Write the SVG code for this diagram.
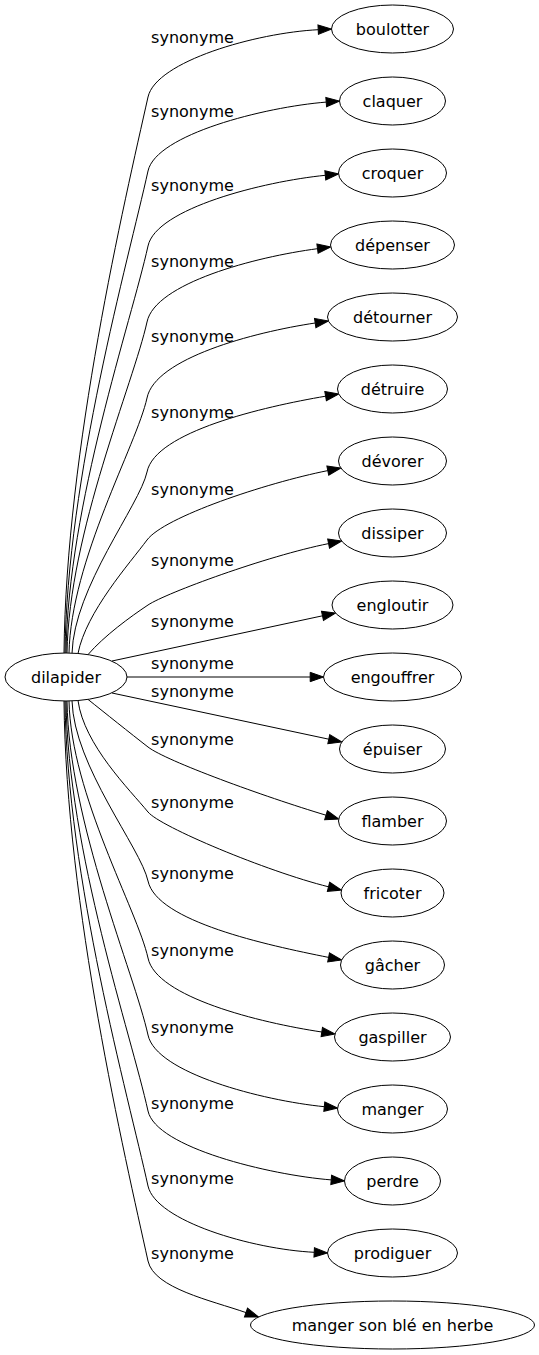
<svg xmlns="http://www.w3.org/2000/svg" width="539" height="1355" viewBox="0 0 539 1355">
<defs>
<style>
.node ellipse{fill:#fff;stroke:#000;stroke-width:1}
text{font-family:"DejaVu Sans",Verdana,sans-serif;font-size:16px;fill:#000;text-anchor:middle}
#edges path{fill:none;stroke:#000;stroke-width:1;marker-end:url(#ah)}
</style>
<marker id="ah" markerUnits="userSpaceOnUse" markerWidth="15" markerHeight="11" refX="0" refY="5" orient="auto" overflow="visible"><path d="M0,0.33 L13.33,5 L0,9.67 Z" fill="#000" stroke="#000" stroke-width="1"/></marker>
</defs>
<rect width="539" height="1355" fill="#fff"/>
<g id="edges">
<g id="e0"><path d="M64,653 C66,450 125,200 148,97 C156,61.3 256.2,32.8 318.2,29.7"/><text x="192.5" y="42.5">synonyme</text></g>
<g id="e1"><path d="M65,653 C67,476.6 128.4,260.2 148,171 C156,134.5 264.2,107.1 326.2,102.1"/><text x="192.5" y="117">synonyme</text></g>
<g id="e2"><path d="M66,653 C68,504.4 131.4,321.3 148,246 C156,208.5 263.3,181.5 325.3,175.3"/><text x="192.5" y="191">synonyme</text></g>
<g id="e3"><path d="M67,653 C69,532.2 133.5,383.2 147,322 C155,283.2 255.5,256.8 317.5,248.7"/><text x="192.5" y="267">synonyme</text></g>
<g id="e4"><path d="M69,653.1 C71,559.9 136.6,445.2 147,398 C155,358.3 253.2,332.3 315.2,323"/><text x="192.5" y="342">synonyme</text></g>
<g id="e5"><path d="M72,653.3 C74,587.1 139.6,505.5 147,472 C155,431.8 263.6,406.7 325.6,396.2"/><text x="192.5" y="418">synonyme</text></g>
<g id="e6"><path d="M78,653.5 C86,612 130,563 147,540 C164,517 265.8,483 327.8,470.6"/><text x="192.5" y="495">synonyme</text></g>
<g id="e7"><path d="M88,654.6 C104,636 130,617 148,605 C166,593 266.6,556 328.6,543.6"/><text x="192.5" y="566">synonyme</text></g>
<g id="e8"><path d="M112,661 L322.5,615.8"/><text x="192.5" y="627">synonyme</text></g>
<g id="e9"><path d="M127,677 L310.2,677"/><text x="192.5" y="669">synonyme</text></g>
<g id="e10"><path d="M112,693 L328.8,739.2"/><text x="192.5" y="697">synonyme</text></g>
<g id="e11"><path d="M88,699.4 C105,713 130,733 148,747 C166,761 264,796.6 326,815.2"/><text x="192.5" y="745">synonyme</text></g>
<g id="e12"><path d="M78,700.5 C84,745 130,790 148,812 C160,826.7 266.5,871.3 328.5,886.8"/><text x="192.5" y="808">synonyme</text></g>
<g id="e13"><path d="M72,700.7 C74,766.5 140.7,847.6 148,881 C156.9,921.5 266.6,945 328.6,957.4"/><text x="192.5" y="879">synonyme</text></g>
<g id="e14"><path d="M69,701 C71,794.8 137.5,910.5 148,958 C156,997.2 259.8,1022.7 321.8,1032"/><text x="192.5" y="956">synonyme</text></g>
<g id="e15"><path d="M67,701 C69,822.9 134.4,973.2 148,1035 C156,1073 262.3,1100.5 324.3,1106.7"/><text x="192.5" y="1033">synonyme</text></g>
<g id="e16"><path d="M66,701 C68,850.7 131.3,1035.1 148,1111 C156,1147.5 269.2,1174.9 331.2,1179.9"/><text x="192.5" y="1109">synonyme</text></g>
<g id="e17"><path d="M65,701 C67,878 128.3,1096.3 148,1186 C156,1221.1 252.2,1249.2 314.2,1252.3"/><text x="192.5" y="1184">synonyme</text></g>
<g id="e18"><path d="M64,701 C66,905.4 125.2,1157.4 148,1261 C154,1288.3 211,1300.4 246,1312.6"/><text x="192.5" y="1259">synonyme</text></g>
</g>
<g id="nodes">
<g id="n-dilapider" class="node"><ellipse cx="66" cy="677" rx="61" ry="24"/><text x="66" y="682.5">dilapider</text></g>
<g id="n0" class="node"><ellipse cx="392.5" cy="29" rx="61" ry="24"/><text x="392.5" y="34.5">boulotter</text></g>
<g id="n1" class="node"><ellipse cx="392.5" cy="101" rx="53" ry="24"/><text x="392.5" y="106.5">claquer</text></g>
<g id="n2" class="node"><ellipse cx="392.5" cy="173" rx="54" ry="24"/><text x="392.5" y="178.5">croquer</text></g>
<g id="n3" class="node"><ellipse cx="392.5" cy="245" rx="62" ry="24"/><text x="392.5" y="250.5">dépenser</text></g>
<g id="n4" class="node"><ellipse cx="392.5" cy="317" rx="65" ry="24"/><text x="392.5" y="322.5">détourner</text></g>
<g id="n5" class="node"><ellipse cx="392.5" cy="389" rx="55" ry="24"/><text x="392.5" y="394.5">détruire</text></g>
<g id="n6" class="node"><ellipse cx="392.5" cy="461" rx="54" ry="24"/><text x="392.5" y="466.5">dévorer</text></g>
<g id="n7" class="node"><ellipse cx="392.5" cy="533" rx="54" ry="24"/><text x="392.5" y="538.5">dissiper</text></g>
<g id="n8" class="node"><ellipse cx="392.5" cy="605" rx="60.5" ry="24"/><text x="392.5" y="610.5">engloutir</text></g>
<g id="n9" class="node"><ellipse cx="392.5" cy="677" rx="69" ry="24"/><text x="392.5" y="682.5">engouffrer</text></g>
<g id="n10" class="node"><ellipse cx="392.5" cy="749" rx="53" ry="24"/><text x="392.5" y="754.5">épuiser</text></g>
<g id="n11" class="node"><ellipse cx="392.5" cy="821" rx="54" ry="24"/><text x="392.5" y="826.5">flamber</text></g>
<g id="n12" class="node"><ellipse cx="392.5" cy="893" rx="51.5" ry="24"/><text x="392.5" y="898.5">fricoter</text></g>
<g id="n13" class="node"><ellipse cx="392.5" cy="965" rx="52" ry="24"/><text x="392.5" y="970.5">gâcher</text></g>
<g id="n14" class="node"><ellipse cx="392.5" cy="1037" rx="58" ry="24"/><text x="392.5" y="1042.5">gaspiller</text></g>
<g id="n15" class="node"><ellipse cx="392.5" cy="1109" rx="55" ry="24"/><text x="392.5" y="1114.5">manger</text></g>
<g id="n16" class="node"><ellipse cx="392.5" cy="1181" rx="48" ry="24"/><text x="392.5" y="1186.5">perdre</text></g>
<g id="n17" class="node"><ellipse cx="392.5" cy="1253" rx="65" ry="24"/><text x="392.5" y="1258.5">prodiguer</text></g>
<g id="n18" class="node"><ellipse cx="392.5" cy="1325" rx="142" ry="24"/><text x="392.5" y="1330.5">manger son blé en herbe</text></g>
</g>
</svg>
